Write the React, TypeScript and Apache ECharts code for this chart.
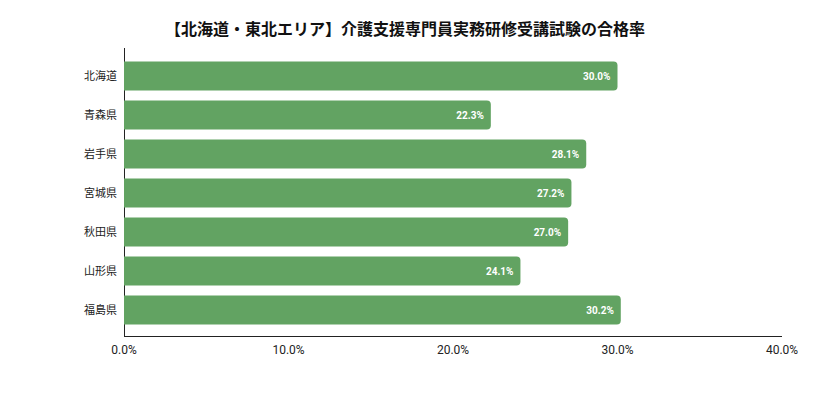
import React, { useRef, useEffect } from "react";
import * as echarts from "echarts";

const prefectures = ["北海道", "青森県", "岩手県", "宮城県", "秋田県", "山形県", "福島県"];
const passRates = [30.0, 22.3, 28.1, 27.2, 27.0, 24.1, 30.2];
const xTicks = [0, 10, 20, 30, 40];

const titleText = "【北海道・東北エリア】介護支援専門員実務研修受講試験の合格率";

const App = function () {
  const chart = useRef<HTMLDivElement>(null);
  useEffect(() => {
    if (!chart.current) return;
    const myChart = echarts.init(chart.current, undefined, { renderer: "svg" });
    const font = "Roboto, 'Noto Sans CJK JP', sans-serif";
    const option = {
      animation: false,
      textStyle: { fontFamily: font },
      title: {
        text: titleText,
        left: 392,
        textAlign: "center",
        top: 8,
        textStyle: { fontSize: 16, fontWeight: "bold", color: "#111", fontFamily: font },
      },
      grid: { left: 116, right: 31, top: 48.5, bottom: 80.5, containLabel: false },
      xAxis: {
        type: "value",
        min: xTicks[0],
        max: xTicks[xTicks.length - 1],
        interval: 10,
        axisLine: { show: false },
        axisTick: { show: false },
        splitLine: { show: false },
        axisLabel: {
          margin: 14,
          fontSize: 12,
          color: "#222",
          formatter: (v: number) => v.toFixed(1) + "%",
        },
      },
      yAxis: {
        type: "category",
        inverse: true,
        data: prefectures,
        axisLine: { show: false },
        axisTick: { show: false },
        axisLabel: { margin: 7, fontSize: 11, color: "#222" },
      },
      graphic: [
        { type: "line", shape: { x1: 116.5, y1: 40, x2: 116.5, y2: 328.5 }, style: { stroke: "#222", lineWidth: 1 } },
        { type: "line", shape: { x1: 116, y1: 328.5, x2: 774, y2: 328.5 }, style: { stroke: "#222", lineWidth: 1 } },
      ],
      series: [
        {
          type: "bar",
          data: passRates,
          barWidth: 29,
          itemStyle: { color: "#62a362", borderRadius: [0, 4, 4, 0] },
          label: {
            show: true,
            position: "insideRight",
            distance: 7,
            color: "#fff",
            fontSize: 10,
            fontWeight: "bold",
            formatter: (p: any) => p.value.toFixed(1) + "%",
          },
        },
      ],
    };
    myChart.setOption(option as any);
    return () => {
      myChart.dispose();
    };
  }, []);
  return <div ref={chart} style={{ width: 805, height: 402 }}></div>;
};

export default App;
